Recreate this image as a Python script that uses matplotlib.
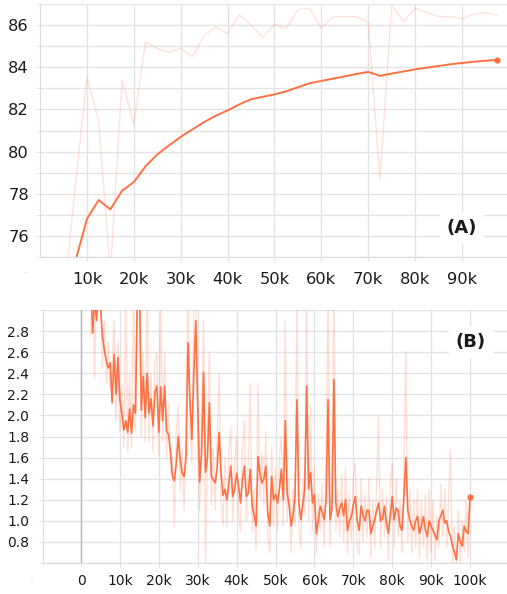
import numpy as np
import matplotlib
matplotlib.use("Agg")
import matplotlib.pyplot as plt

plt.rcParams['font.family'] = ['DejaVu Sans']

# (A) evaluation accuracy, raw and smoothed, every 2.5k steps
pasos_a = [2500, 5000, 7500, 10000, 12500, 15000, 17500, 20000, 22500, 25000,
           27500, 30000, 32500, 35000, 37500, 40000, 42500, 45000, 47500, 50000,
           52500, 55000, 57500, 60000, 62500, 65000, 67500, 70000, 72500, 75000,
           77500, 80000, 82500, 85000, 87500, 90000, 92500, 95000, 97500]
raw_a = [66.0, 72.8, 78.3, 83.5, 81.5, 74.2, 83.4, 81.3, 85.2, 84.9,
         84.7, 84.9, 84.5, 85.5, 85.9, 85.6, 86.5, 86.0, 85.4, 86.05,
         85.84, 86.73, 86.8, 85.86, 86.4, 86.4, 86.4, 86.13, 78.67, 86.95,
         86.16, 86.8, 86.6, 86.4, 86.4, 86.3, 86.52, 86.6, 86.45]
suave_a = [66.0, 71.5, 74.75, 76.8, 77.7, 77.26, 78.14, 78.55, 79.3, 79.86,
           80.29, 80.7, 81.05, 81.4, 81.7, 81.95, 82.24, 82.48, 82.6, 82.71,
           82.86, 83.05, 83.24, 83.35, 83.46, 83.57, 83.68, 83.78, 83.59, 83.7,
           83.8, 83.9, 83.98, 84.06, 84.14, 84.2, 84.26, 84.31, 84.35]

# (B) training loss, raw and smoothed, every 500 steps
pasos_b = list(range(2500, 100001, 500))
suave_b = [3.3, 2.78, 3.1, 2.9, 3.2, 3.05, 2.75, 2.62, 2.52, 2.45,
           2.5, 2.12, 2.58, 2.2, 2.55, 2.15, 2.02, 1.86, 1.95, 1.84,
           2.06, 1.83, 2.1, 2.02, 3.2, 3.3, 2.05, 2.37, 1.98, 2.4,
           2.02, 2.16, 1.9, 2.22, 2.28, 1.84, 2.27, 1.95, 2.28, 1.85,
           1.82, 1.66, 1.42, 1.38, 1.55, 1.8, 1.58, 1.45, 1.42, 1.6,
           2.69, 2.15, 1.77, 2.4, 2.9, 2.1, 1.37, 1.65, 2.41, 1.46,
           1.6, 2.12, 1.42, 1.39, 1.36, 1.5, 1.84, 1.45, 1.24, 1.3,
           1.2, 1.35, 1.52, 1.23, 1.3, 1.45, 1.33, 1.17, 1.39, 1.52,
           1.23, 1.26, 1.49, 1.14, 1.05, 0.95, 1.61, 1.45, 1.36, 1.4,
           1.52, 1.08, 0.95, 1.42, 1.2, 1.25, 1.17, 1.3, 1.49, 1.2,
           1.95, 1.26, 1.15, 0.95, 1.05, 1.23, 2.15, 1.17, 1.01, 1.15,
           1.3, 2.28, 1.3, 1.46, 1.17, 1.25, 0.88, 1.0, 1.14, 1.08,
           1.01, 1.2, 2.15, 1.01, 1.1, 2.34, 1.17, 1.04, 1.12, 1.17,
           1.05, 1.2, 0.91, 1.0, 1.04, 1.15, 1.23, 1.0, 0.91, 1.14,
           1.05, 1.0, 1.1, 1.1, 0.88, 0.95, 1.01, 1.1, 1.17, 1.0,
           1.02, 1.14, 0.98, 0.88, 1.05, 1.23, 1.01, 1.12, 1.1, 0.95,
           0.91, 1.23, 1.6, 1.1, 1.01, 0.95, 0.91, 1.0, 1.04, 0.88,
           0.95, 1.04, 0.92, 0.85, 1.0, 0.95, 0.91, 0.86, 0.82, 1.0,
           1.05, 1.1, 0.98, 1.0, 0.9, 0.85, 0.76, 0.7, 0.63, 0.88,
           0.8, 0.76, 0.95, 0.9, 0.88, 1.23]
raw_b = [2.75, 3.4, 2.35, 3.5, 3.4, 3.3, 2.45, 2.9, 2.3, 2.7,
         2.25, 2.4, 2.9, 1.95, 2.7, 1.85, 2.3, 1.7, 3.2, 1.65,
         2.4, 1.7, 3.2, 1.85, 3.4, 3.5, 1.8, 2.6, 1.75, 3.3,
         1.75, 2.4, 1.65, 2.5, 2.6, 1.62, 3.1, 1.75, 2.6, 1.6,
         2.1, 1.45, 1.62, 0.95, 1.85, 2.1, 1.3, 1.7, 1.1, 2.0,
         3.3, 1.9, 1.55, 3.1, 3.3, 1.7, 1.1, 1.95, 2.9, 0.6,
         1.9, 2.6, 1.15, 1.7, 1.1, 1.8, 2.4, 1.2, 0.95, 1.6,
         0.95, 1.65, 1.9, 1.0, 1.55, 1.8, 1.05, 0.9, 1.7, 1.95,
         1.0, 1.55, 2.3, 0.9, 1.3, 0.72, 2.3, 1.2, 1.65, 1.15,
         1.85, 0.85, 0.7, 1.7, 0.95, 1.5, 0.9, 1.6, 1.8, 0.95,
         2.9, 1.0, 1.4, 0.7, 1.3, 0.95, 3.2, 0.9, 0.75, 1.4,
         1.05, 3.2, 1.0, 2.1, 0.9, 1.5, 0.68, 1.25, 0.9, 1.35,
         0.75, 1.5, 3.3, 0.75, 1.35, 3.3, 0.9, 1.3, 0.85, 1.45,
         0.8, 1.5, 0.68, 1.25, 0.8, 1.4, 1.55, 0.75, 0.68, 1.4,
         0.8, 1.25, 0.85, 1.4, 0.65, 1.2, 0.75, 1.35, 1.98, 0.75,
         1.3, 0.85, 1.25, 0.62, 1.35, 1.55, 0.75, 1.4, 0.85, 1.2,
         0.7, 1.5, 2.6, 0.8, 1.3, 0.7, 1.2, 0.75, 1.3, 0.65,
         1.2, 0.75, 1.25, 0.62, 1.3, 0.7, 1.2, 0.62, 1.05, 0.75,
         1.35, 0.85, 1.3, 0.75, 1.2, 1.67, 0.6, 0.95, 0.58, 1.1,
         0.6, 1.0, 0.7, 1.2, 0.65, 1.23]

etiquetas_a = ["10k", "20k", "30k", "40k", "50k", "60k", "70k", "80k", "90k"]
etiquetas_b = ["0", "10k", "20k", "30k", "40k", "50k", "60k", "70k", "80k", "90k", "100k"]

naranja = "#ff7043"
gris_grid = "#e3e3e3"
texto = "#1a1a1a"

fig = plt.figure(figsize=(5.07, 5.94), dpi=100)

# Panel (A)
ax1 = fig.add_axes([40 / 507, 1 - 257 / 594, 467 / 507, 253 / 594])
ax1.plot(pasos_a, raw_a, color=naranja, alpha=0.2, linewidth=1.0)
ax1.plot(pasos_a, suave_a, color=naranja, linewidth=1.4)
ax1.plot(pasos_a[-1], suave_a[-1], 'o', color=naranja, markersize=3.5)
ax1.set_xlim(0, 99600)
ax1.set_ylim(75, 87)
ax1.set_xticks(np.arange(10000, 100000, 10000))
ax1.set_xticklabels(etiquetas_a)
ax1.set_yticks(np.arange(76, 87, 2))
ax1.set_yticks(np.arange(75, 88, 1), minor=True)
ax1.grid(True, which='both', axis='y', color=gris_grid, linewidth=1)
ax1.grid(True, which='major', axis='x', color=gris_grid, linewidth=1)
ax1.tick_params(axis='x', length=3, color=gris_grid, pad=8, labelsize=11.7, labelcolor=texto)
ax1.tick_params(axis='y', which='major', length=3, color=gris_grid, pad=5, labelsize=11.7, labelcolor=texto)
ax1.tick_params(axis='y', which='minor', length=3, color=gris_grid)
ax1.text(0.904, 0.115, "(A)", transform=ax1.transAxes, ha='center', va='center',
         fontsize=13, fontweight='bold', color=texto,
         bbox=dict(facecolor='white', edgecolor='none', pad=5))
ax1.text(-0.032, -0.059, "-", transform=ax1.transAxes, ha='center', va='center',
         fontsize=8, color='#dddddd')

# Panel (B)
ax2 = fig.add_axes([43 / 507, 1 - 563 / 594, 464 / 507, 253 / 594])
ax2.plot(pasos_b, raw_b, color=naranja, alpha=0.22, linewidth=1.0)
ax2.plot(pasos_b, suave_b, color=naranja, linewidth=1.2)
ax2.plot(pasos_b[-1], suave_b[-1], 'o', color=naranja, markersize=3.5)
ax2.axvline(0, color='#b8b8b8', linewidth=1)
ax2.set_xlim(-9770, 109500)
ax2.set_ylim(0.6, 3.0)
ax2.set_xticks(np.arange(0, 100001, 10000))
ax2.set_xticklabels(etiquetas_b)
ax2.set_yticks(np.arange(0.8, 2.81, 0.2))
ax2.set_yticklabels([f"{v:.1f}" for v in np.arange(0.8, 2.81, 0.2)])
ax2.set_yticks([0.6, 3.0], minor=True)
ax2.grid(True, which='both', color=gris_grid, linewidth=1)
ax2.tick_params(axis='x', length=3, color=gris_grid, pad=5, labelsize=10, labelcolor=texto)
ax2.tick_params(axis='y', length=3, color=gris_grid, pad=7, labelsize=10, labelcolor=texto)
ax2.tick_params(axis='y', which='minor', length=3, color=gris_grid)
ax2.text(0.922, 0.874, "(B)", transform=ax2.transAxes, ha='center', va='center',
         fontsize=13, fontweight='bold', color=texto,
         bbox=dict(facecolor='white', edgecolor='none', pad=5))
ax2.text(-0.024, -0.067, "-", transform=ax2.transAxes, ha='center', va='center',
         fontsize=8, color='#dddddd')

for ax in (ax1, ax2):
    ax.set_axisbelow(True)
    for lado in ('top', 'right'):
        ax.spines[lado].set_visible(False)
    for lado in ('left', 'bottom'):
        ax.spines[lado].set_color('#dcdcdc')

plt.savefig("out.png", dpi=100)
